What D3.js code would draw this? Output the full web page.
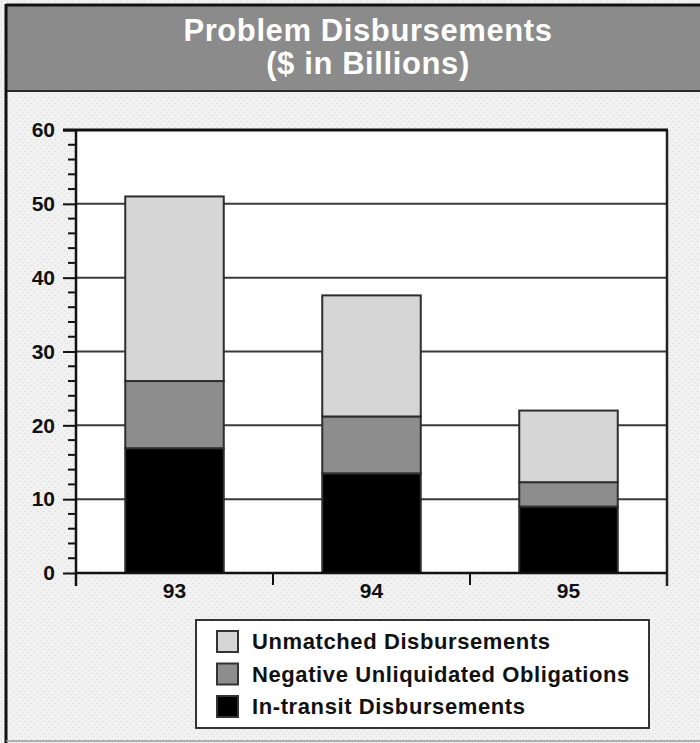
<!DOCTYPE html>
<html>
<head>
<meta charset="utf-8">
<script src="https://cdn.jsdelivr.net/npm/d3@7"></script>
<style>
  html, body { margin: 0; padding: 0; background: #fff; }
  svg { display: block; font-family: "Liberation Sans", Arial, Helvetica, sans-serif; }
</style>
</head>
<body>
<svg id="chart" width="700" height="743"></svg>
<script>
// Fiscal years and the three stacked components ($ billions)
const years = ["93", "94", "95"];
const inTransit = [16.9, 13.5, 9.0];
const negativeULO = [9.1, 7.7, 3.3];
const unmatched = [25.0, 16.4, 9.7];

const seriesKeys = ["inTransit", "negativeULO", "unmatched"];
const seriesLabels = {
  unmatched: "Unmatched Disbursements",
  negativeULO: "Negative Unliquidated Obligations",
  inTransit: "In-transit Disbursements"
};
const seriesFill = { inTransit: "#000000", negativeULO: "#8d8d8d", unmatched: "#d6d6d6" };

const yMajor = [0, 10, 20, 30, 40, 50, 60];

const titleLines = ["Problem Disbursements", "($ in Billions)"];

const rows = years.map((y, i) => ({
  year: y, inTransit: inTransit[i], negativeULO: negativeULO[i], unmatched: unmatched[i]
}));

const svg = d3.select("#chart");
const W = 700, H = 743;

// stippled page background
const defs = svg.append("defs");
const pat = defs.append("pattern").attr("id", "stipple")
  .attr("width", 6).attr("height", 6).attr("patternUnits", "userSpaceOnUse");
pat.append("rect").attr("width", 6).attr("height", 6).attr("fill", "#f1f1f1");
pat.append("rect").attr("x", 1).attr("y", 1).attr("width", 1).attr("height", 1).attr("fill", "#d4d4d4");
pat.append("rect").attr("x", 4).attr("y", 4).attr("width", 1).attr("height", 1).attr("fill", "#d9d9d9");

svg.append("rect").attr("width", W).attr("height", H).attr("fill", "url(#stipple)");

// title band
svg.append("rect").attr("x", 7).attr("y", 6).attr("width", W - 7).attr("height", 85)
  .attr("fill", "#8b8b8b");
svg.append("line").attr("x1", 7).attr("x2", W).attr("y1", 91).attr("y2", 91)
  .attr("stroke", "#2a2a2a").attr("stroke-width", 2);

svg.selectAll("text.title").data(titleLines).join("text")
  .attr("class", "title")
  .attr("x", 368).attr("y", (d, i) => 41 + i * 33)
  .attr("text-anchor", "middle")
  .attr("fill", "#ffffff")
  .attr("font-size", 31).attr("font-weight", "bold").attr("letter-spacing", 0.6)
  .text(d => d);

// outer frame
svg.append("line").attr("x1", 6).attr("x2", W).attr("y1", 5).attr("y2", 5)
  .attr("stroke", "#111").attr("stroke-width", 3);
svg.append("line").attr("x1", 6).attr("x2", 6).attr("y1", 4).attr("y2", H)
  .attr("stroke", "#111").attr("stroke-width", 3);
svg.append("line").attr("x1", 6).attr("x2", W).attr("y1", 741).attr("y2", 741)
  .attr("stroke", "#9a9a9a").attr("stroke-width", 1.5);

// plot geometry
const x0 = 76, x1 = 667, yTop = 130, yBase = 573;

const x = d3.scaleBand().domain(years).range([x0, x1]).paddingInner(0).paddingOuter(0);
const y = d3.scaleLinear().domain([0, 60]).range([yBase, yTop]);

svg.append("rect").attr("x", x0).attr("y", yTop).attr("width", x1 - x0).attr("height", yBase - yTop)
  .attr("fill", "#ffffff");

// horizontal gridlines
svg.append("g").selectAll("line").data(yMajor.filter(v => v > 0 && v < 60)).join("line")
  .attr("x1", x0).attr("x2", x1)
  .attr("y1", d => y(d)).attr("y2", d => y(d))
  .attr("stroke", "#3a3a3a").attr("stroke-width", 2);

// stacked bars
const stack = d3.stack().keys(seriesKeys);
const layers = stack(rows);
const barW = x.bandwidth() * 0.5;

svg.append("g").selectAll("g").data(layers).join("g")
  .attr("fill", d => seriesFill[d.key])
  .selectAll("rect").data(d => d).join("rect")
  .attr("x", d => x(d.data.year) + (x.bandwidth() - barW) / 2)
  .attr("width", barW)
  .attr("y", d => y(d[1]))
  .attr("height", d => y(d[0]) - y(d[1]))
  .attr("stroke", "#2e2e2e").attr("stroke-width", 2);

// y axis with major and minor ticks
const yAxis = d3.axisLeft(y).tickValues(yMajor).tickSize(13).tickPadding(8).tickFormat(d3.format("d"));
const gy = svg.append("g").attr("transform", `translate(${x0},0)`).call(yAxis);
gy.select(".domain").remove();
gy.selectAll(".tick line").attr("stroke", "#111").attr("stroke-width", 2);
gy.selectAll(".tick text").attr("font-size", 21).attr("font-weight", "bold")
  .attr("font-family", "Liberation Sans, Arial, sans-serif").attr("fill", "#111");

const minorVals = d3.range(0, 61, 2).filter(v => v % 10 !== 0);
svg.append("g").selectAll("line").data(minorVals).join("line")
  .attr("x1", x0 - 8).attr("x2", x0)
  .attr("y1", d => y(d)).attr("y2", d => y(d))
  .attr("stroke", "#111").attr("stroke-width", 2);

// frame lines
svg.append("line").attr("x1", x0).attr("x2", x0).attr("y1", yTop - 1).attr("y2", yBase + 13)
  .attr("stroke", "#111").attr("stroke-width", 2.5);
svg.append("line").attr("x1", x0 - 13).attr("x2", x1 + 1).attr("y1", yTop).attr("y2", yTop)
  .attr("stroke", "#111").attr("stroke-width", 3);
svg.append("line").attr("x1", x1).attr("x2", x1).attr("y1", yTop).attr("y2", yBase + 13)
  .attr("stroke", "#222").attr("stroke-width", 2.5);

// x axis: boundary ticks between years, labels centred
const xAxis = d3.axisBottom(x).tickSize(0).tickPadding(10);
const gx = svg.append("g").attr("transform", `translate(0,${yBase})`).call(xAxis);
gx.select(".domain").attr("stroke", "#111").attr("stroke-width", 2.5).attr("d", `M${x0},0H${x1}`);
gx.selectAll(".tick text").attr("font-size", 21).attr("font-weight", "bold")
  .attr("font-family", "Liberation Sans, Arial, sans-serif").attr("fill", "#111");

svg.append("g").selectAll("line").data(years.slice(1)).join("line")
  .attr("x1", d => x(d)).attr("x2", d => x(d))
  .attr("y1", yBase).attr("y2", yBase + 12)
  .attr("stroke", "#111").attr("stroke-width", 2);

// legend
const legendOrder = ["unmatched", "negativeULO", "inTransit"];
const lg = svg.append("g");
lg.append("rect").attr("x", 196).attr("y", 620).attr("width", 453).attr("height", 108)
  .attr("fill", "#ffffff").attr("stroke", "#333").attr("stroke-width", 2);

const item = lg.selectAll("g.item").data(legendOrder).join("g").attr("class", "item")
  .attr("transform", (d, i) => `translate(0,${642 + i * 32.5})`);
item.append("rect").attr("x", 217).attr("y", -11).attr("width", 21).attr("height", 21)
  .attr("fill", d => seriesFill[d]).attr("stroke", "#333").attr("stroke-width", 2);
item.append("text").attr("x", 252).attr("y", 7)
  .attr("font-size", 22).attr("font-weight", "bold").attr("letter-spacing", 0.6)
  .attr("fill", "#111")
  .text(d => seriesLabels[d]);
</script>
</body>
</html>
